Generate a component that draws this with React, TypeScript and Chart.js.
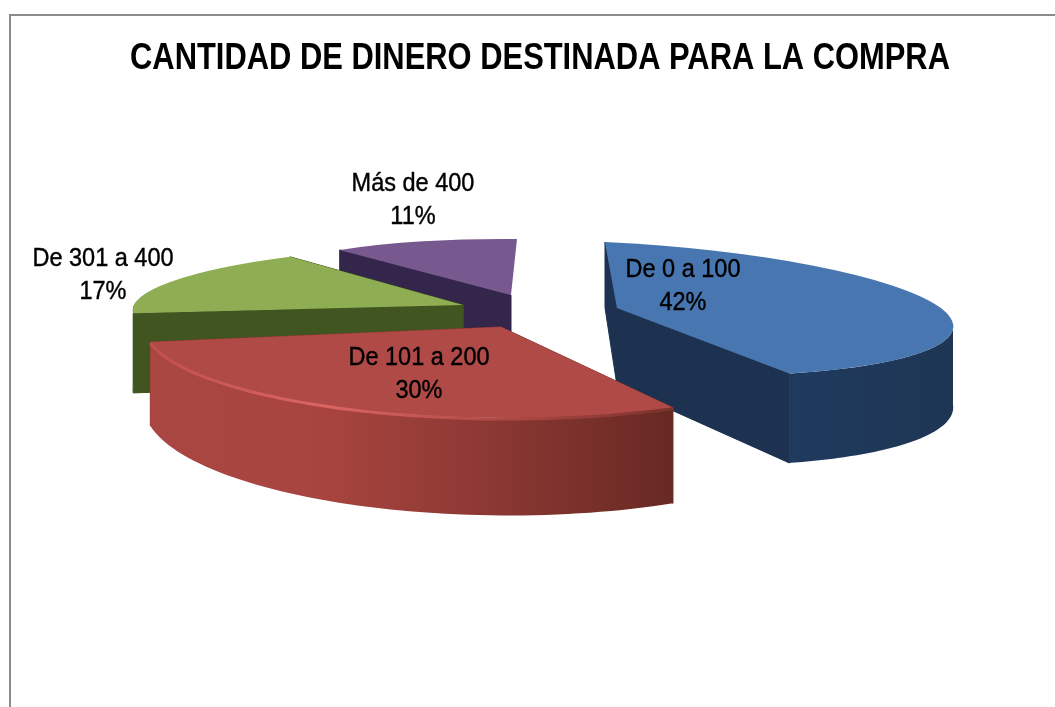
import React, { useEffect, useRef } from "react";
import { Chart, registerables } from "chart.js";

Chart.register(...registerables);

const TITLE = "CANTIDAD DE DINERO DESTINADA PARA LA COMPRA";
const categories = ["De 0 a 100", "De 101 a 200", "De 301 a 400", "Más de 400"];
const values = [42, 30, 17, 11];
const topColors = ["#4876b0", "#b04a46", "#8fae54", "#77598f"];

// Projection of each exploded slice: centre (tx,ty) and 2x2 matrix a,b,c,d mapped onto the unit circle
const projection = [
  { tx: 617, ty: 308, a: 336, b: 12, c: 16, d: 66, depth: 78 },
  { tx: 501, ty: 327, a: 357, b: 0, c: 2, d: 91, depth: 78 },
  { tx: 463, ty: 305, a: 327, b: -46, c: 3, d: 60, depth: 79 },
  { tx: 511, ty: 295, a: 276, b: -6, c: 3, d: 56, depth: 66 },
];
const wallStyle = [
  { cut: "#1c3250", stops: ["#1f3a5e", "#1e3654"], startFace: true, endFace: true, rim: null },
  {
    cut: "#8a3732",
    stops: ["#ab4743", "#a8443f", "#8a3732", "#682923"],
    startFace: true,
    endFace: true,
    rim: ["#c0504c", "#dc6562", "#b04a46", "#7a322c"],
  },
  { cut: "#40551f", stops: ["#40551f", "#40551f"], startFace: true, endFace: true, rim: null },
  { cut: "#33264a", stops: ["#33264a", "#2e2850"], startFace: true, endFace: false, rim: null },
];
const paintOrder = [3, 2, 0, 1];
const labelAnchors = [
  { x: 683, y: 270 },
  { x: 419, y: 358 },
  { x: 103, y: 259 },
  { x: 413, y: 184 },
];

const LABEL_FONT = "25px 'Liberation Sans'";
const LABEL_LINE = 33;
const LABEL_SQUEEZE = 0.94;

function pointOn(p: any, theta: number) {
  const ux = Math.cos(theta);
  const uy = Math.sin(theta);
  return { x: p.tx + p.a * ux + p.b * uy, y: p.ty + p.c * ux + p.d * uy };
}
const depthAt = (p: any, y: number) => p.depth + (y - 310) * 0.18;

function face(ctx: CanvasRenderingContext2D, p: any, a: any, b: any, fill: any) {
  ctx.beginPath();
  ctx.moveTo(a.x, a.y);
  ctx.lineTo(b.x, b.y);
  ctx.lineTo(b.x, b.y + depthAt(p, b.y));
  ctx.lineTo(a.x, a.y + depthAt(p, a.y));
  ctx.closePath();
  ctx.fillStyle = fill;
  ctx.fill();
  ctx.strokeStyle = fill;
  ctx.lineWidth = 1;
  ctx.stroke();
}

function gradientFor(ctx: CanvasRenderingContext2D, x0: number, x1: number, stops: string[]) {
  const g = ctx.createLinearGradient(x0, 0, x1, 0);
  stops.forEach((s, i) => g.addColorStop(i / (stops.length - 1), s));
  return g;
}

function drawLabel(ctx: CanvasRenderingContext2D, text: string, x: number, y: number) {
  const w = ctx.measureText(text).width * LABEL_SQUEEZE;
  ctx.fillText(text, x, y, w);
  ctx.strokeText(text, x, y, w);
}

const pie3d = {
  id: "pie3d",
  beforeDraw(chart: any) {
    const { ctx, width, height } = chart;
    ctx.save();
    ctx.fillStyle = "#ffffff";
    ctx.fillRect(0, 0, width, height);
    ctx.strokeStyle = "#8c8c8c";
    ctx.lineWidth = 2;
    ctx.strokeRect(10, 15, width + 40, height + 40);
    ctx.restore();
  },
  beforeDatasetDraw(chart: any, args: any) {
    const { ctx } = chart;
    const arcs = args.meta.data;
    paintOrder.forEach((i) => {
      const arc = arcs[i];
      const p = projection[i];
      const s = wallStyle[i];
      const apex = { x: p.tx, y: p.ty };
      const start = pointOn(p, arc.startAngle);
      const end = pointOn(p, arc.endAngle);

      if (s.startFace) face(ctx, p, apex, start, s.cut);
      if (s.endFace) face(ctx, p, apex, end, s.cut);

      // Outer wall: the part of the rim turned toward the viewer
      const from = Math.max(arc.startAngle, 0);
      const to = Math.min(arc.endAngle, Math.PI);
      const rim: { x: number; y: number }[] = [];
      if (to > from) {
        const n = 60;
        for (let k = 0; k <= n; k++) rim.push(pointOn(p, from + ((to - from) * k) / n));
        const xs = rim.map((q) => q.x);
        const x0 = Math.min(...xs);
        const x1 = Math.max(...xs);
        ctx.beginPath();
        rim.forEach((q, k) => (k ? ctx.lineTo(q.x, q.y) : ctx.moveTo(q.x, q.y)));
        [...rim].reverse().forEach((q) => ctx.lineTo(q.x, q.y + depthAt(p, q.y)));
        ctx.closePath();
        ctx.fillStyle = gradientFor(ctx, x0, x1, s.stops);
        ctx.fill();
      }

      // Top face: the library's own arc, under this slice's projection
      const R = arc.outerRadius;
      ctx.save();
      ctx.translate(p.tx, p.ty);
      ctx.transform(p.a / R, p.c / R, p.b / R, p.d / R, 0, 0);
      ctx.translate(-arc.x, -arc.y);
      arc.draw(ctx);
      ctx.restore();

      if (s.rim && rim.length) {
        const xs = rim.map((q) => q.x);
        const x0 = Math.min(...xs);
        const x1 = Math.max(...xs);
        ctx.save();
        ctx.beginPath();
        rim.forEach((q, k) => {
          const dy = 1;
          k ? ctx.lineTo(q.x, q.y + dy) : ctx.moveTo(q.x, q.y + dy);
        });
        ctx.lineWidth = 3;
        ctx.strokeStyle = gradientFor(ctx, x0, x1, s.rim);
        ctx.stroke();
        ctx.restore();
      }
    });
    return false;
  },
  afterDraw(chart: any) {
    const { ctx } = chart;
    const total = values.reduce((a, b) => a + b, 0);
    ctx.save();
    ctx.fillStyle = "#000000";
    ctx.strokeStyle = "#000000";
    ctx.lineWidth = 0.4;
    ctx.font = LABEL_FONT;
    ctx.textAlign = "center";
    ctx.textBaseline = "middle";
    categories.forEach((c, i) => {
      const { x, y } = labelAnchors[i];
      drawLabel(ctx, c, x, y);
      drawLabel(ctx, `${Math.round((values[i] / total) * 100)}%`, x, y + LABEL_LINE);
    });
    ctx.restore();
  },
};

export default function App() {
  const ref = useRef<HTMLCanvasElement>(null);
  useEffect(() => {
    const chart = new Chart(ref.current!, {
      type: "pie",
      data: {
        labels: categories,
        datasets: [{ data: values, backgroundColor: topColors, borderWidth: 0 }],
      },
      options: {
        responsive: false,
        animation: false,
        radius: 100,
        // the title box width is what condenses the title to its width in the picture
        layout: { padding: { left: 130, right: 105 } },
        plugins: {
          legend: { display: false },
          tooltip: { enabled: false },
          title: {
            display: true,
            text: TITLE,
            color: "#000000",
            font: { family: "'Liberation Sans'", size: 37, weight: "bold" },
            padding: { top: 37, bottom: 10 },
          },
        },
      },
      plugins: [pie3d],
    } as any);
    return () => chart.destroy();
  }, []);
  return (
    <div style={{ position: "fixed", inset: 0, overflow: "hidden", background: "#fff" }}>
      <canvas ref={ref} width={1055} height={707} style={{ display: "block" }} />
    </div>
  );
}
